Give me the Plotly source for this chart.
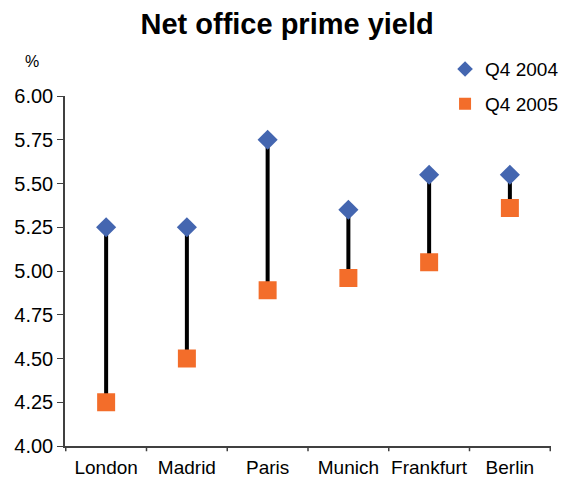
import plotly.graph_objects as go

cities = ["London", "Madrid", "Paris", "Munich", "Frankfurt", "Berlin"]
q4_2004 = [5.25, 5.25, 5.75, 5.35, 5.55, 5.55]
q4_2005 = [4.25, 4.50, 4.89, 4.96, 5.05, 5.36]
y_ticks = [4.00, 4.25, 4.50, 4.75, 5.00, 5.25, 5.50, 5.75, 6.00]

FONT = "Liberation Sans, Arial, sans-serif"

line_x, line_y = [], []
for c, a, b in zip(cities, q4_2004, q4_2005):
    line_x += [c, c, None]
    line_y += [a, b, None]

fig = go.Figure()
fig.add_trace(go.Scatter(x=line_x, y=line_y, mode="lines",
                         line=dict(color="black", width=4),
                         showlegend=False, hoverinfo="skip"))
fig.add_trace(go.Scatter(x=cities, y=q4_2004, mode="markers", name="Q4 2004",
                         legendgroup="a",
                         marker=dict(symbol="diamond", size=15.5, color="#4466B0",
                                     line=dict(width=0))))
fig.add_trace(go.Scatter(x=cities, y=q4_2005, mode="markers", name="Q4 2005",
                         legendgroup="b",
                         marker=dict(symbol="square", size=18, color="#F36D2A",
                                     line=dict(width=0))))

fig.update_layout(
    width=563, height=477,
    margin=dict(l=65, r=12, t=96, b=31, autoexpand=False),
    paper_bgcolor="white", plot_bgcolor="white",
    font=dict(family=FONT, color="black", size=19),
    title=dict(text="<b>Net office prime yield</b>", x=0.51, xanchor="center",
               y=0.95, yanchor="middle", font=dict(size=29, family=FONT, color="black")),
    legend=dict(x=0.782, xanchor="left", y=1.131, yanchor="top",
                font=dict(size=19, family=FONT), bgcolor="rgba(0,0,0,0)",
                tracegroupgap=7, itemsizing="constant"),
    xaxis=dict(type="category", categoryorder="array", categoryarray=cities,
               showline=True, linecolor="#404040", linewidth=1.5,
               showgrid=False, zeroline=False, automargin=False,
               ticks="outside", ticklen=3, tickcolor="rgba(0,0,0,0)",
               tickfont=dict(size=19)),
    yaxis=dict(range=[4.0, 6.0], tickvals=y_ticks,
               ticktext=[f"{v:.2f}" for v in y_ticks],
               showline=True, linecolor="#404040", linewidth=1.5,
               showgrid=False, zeroline=False, automargin=False,
               ticks="outside", ticklen=6, tickcolor="#404040",
               tickfont=dict(size=20)),
    annotations=[dict(text="%", xref="paper", yref="paper",
                      x=(32 - 65) / 486, y=1 + (96 - 62) / 350,
                      xanchor="center", yanchor="middle", showarrow=False,
                      font=dict(size=16, family=FONT))],
)

# category boundary ticks on x-axis
for i in range(len(cities) + 1):
    fig.add_shape(type="line", xref="x", yref="paper",
                  x0=i - 0.5, x1=i - 0.5, y0=0, y1=-0.015,
                  line=dict(color="#404040", width=1.5))

fig.write_html("out.html")
